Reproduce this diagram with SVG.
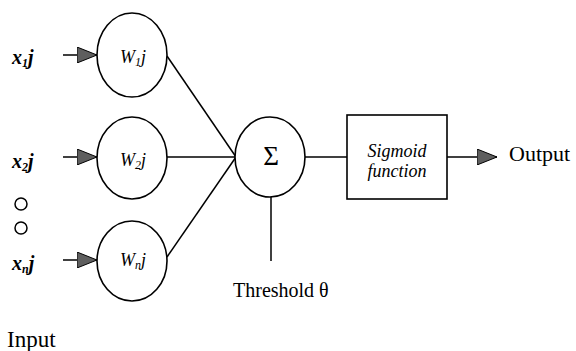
<svg xmlns="http://www.w3.org/2000/svg" width="576" height="351" viewBox="0 0 576 351">
<defs>
<style>
.ln{stroke:#000;stroke-width:1.5;fill:none}
.nd{stroke:#000;stroke-width:1.6;fill:#fff}
.t{font-family:"Liberation Serif","Times New Roman",serif;fill:#000}
.it{font-style:italic}
.xl{font-size:20px;font-weight:bold}
.wl{font-size:18px}
.sub{font-size:12px}
</style>
<marker id="ah" markerWidth="20" markerHeight="16" refX="20" refY="8" orient="auto" markerUnits="userSpaceOnUse">
<path d="M0,0 L20,8 L0,16 Z" fill="#5e5e5e" stroke="#000" stroke-width="1"/>
</marker>
</defs>
<rect width="576" height="351" fill="#fff"/>
<g id="connectors">
<line class="ln" x1="63" y1="55" x2="97" y2="55" marker-end="url(#ah)"/>
<line class="ln" x1="63" y1="157" x2="97" y2="157" marker-end="url(#ah)"/>
<line class="ln" x1="63" y1="260" x2="97" y2="260" marker-end="url(#ah)"/>
<line class="ln" x1="167" y1="56" x2="236" y2="157"/>
<line class="ln" x1="167" y1="157" x2="236" y2="157"/>
<line class="ln" x1="167" y1="257" x2="236" y2="157"/>
<line class="ln" x1="305" y1="157" x2="347" y2="157"/>
<line class="ln" x1="447" y1="157" x2="497" y2="157" marker-end="url(#ah)"/>
<line class="ln" x1="271" y1="197" x2="271" y2="261"/>
</g>
<g id="input1">
<text class="t it xl" x="12" y="64">x<tspan class="sub" dy="3">1</tspan><tspan dy="-3">j</tspan></text>
</g>
<g id="input2">
<text class="t it xl" x="12" y="168">x<tspan class="sub" dy="3">2</tspan><tspan dy="-3">j</tspan></text>
</g>
<g id="dots">
<ellipse class="ln" cx="21" cy="204" rx="6" ry="6"/>
<ellipse class="ln" cx="21" cy="228" rx="6" ry="6"/>
</g>
<g id="inputn">
<text class="t it xl" x="12" y="270">x<tspan class="sub" dy="3">n</tspan><tspan dy="-3">j</tspan></text>
</g>
<g id="w1">
<ellipse class="nd" cx="132" cy="55" rx="35" ry="42"/>
<text class="t it wl" x="120" y="63">W<tspan class="sub" dy="3">1</tspan><tspan dy="-3">j</tspan></text>
</g>
<g id="w2">
<ellipse class="nd" cx="132" cy="158" rx="35" ry="41"/>
<text class="t it wl" x="120" y="166">W<tspan class="sub" dy="3">2</tspan><tspan dy="-3">j</tspan></text>
</g>
<g id="wn">
<ellipse class="nd" cx="132" cy="261" rx="35" ry="40"/>
<text class="t it wl" x="120" y="266">W<tspan class="sub" dy="3">n</tspan><tspan dy="-3">j</tspan></text>
</g>
<g id="sum">
<ellipse class="nd" cx="270" cy="157" rx="35" ry="40"/>
<text class="t" x="271" y="165" font-size="27" text-anchor="middle">Σ</text>
</g>
<g id="sigmoid">
<rect class="nd" x="347" y="115" width="100" height="84"/>
<text class="t it" x="397" y="157" font-size="18" text-anchor="middle">Sigmoid</text>
<text class="t it" x="397" y="177" font-size="18" text-anchor="middle">function</text>
</g>
<g id="output">
<text class="t" x="509" y="161" font-size="22">Output</text>
</g>
<g id="threshold">
<text class="t" x="233" y="297" font-size="20">Threshold θ</text>
</g>
<g id="inputlabel">
<text class="t" x="7" y="347" font-size="23">Input</text>
</g>
</svg>
